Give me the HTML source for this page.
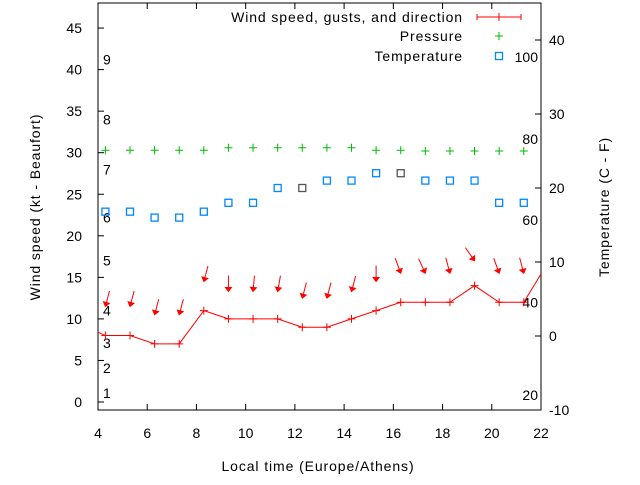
<!DOCTYPE html>
<html><head><meta charset="utf-8"><style>
body{margin:0;background:#fff}
svg text{font-family:"Liberation Sans",sans-serif;font-size:14px;fill:#000}
svg text.wide{letter-spacing:0.9px}
</style></head><body>
<svg id="c" width="640" height="480"></svg>
<script>
const hours=[4.3,5.3,6.3,7.3,8.3,9.3,10.3,11.3,12.3,13.3,14.3,15.3,16.3,17.3,18.3,19.3,20.3,21.3];
const windLine=[[4,8.4],[4.3,8],[5.3,8],[6.3,7],[7.3,7],[8.3,11],[9.3,10],[10.3,10],[11.3,10],[12.3,9],[13.3,9],[14.3,10],[15.3,11],[16.3,12],[17.3,12],[18.3,12],[19.3,14],[20.3,12],[21.3,12],[22,15.4]];
const gusts=[11.5,11.5,10.5,10.5,14.5,13.3,13.3,13.3,12.5,12.5,13.3,14.5,15.5,15.5,15.5,17,15.5,15.5];
const dirs=[15,15,15,15,15,0,5,10,15,15,15,0,-20,-25,-15,-35,-20,-15];
const pressure=[30.3,30.3,30.3,30.3,30.3,30.6,30.6,30.6,30.6,30.6,30.6,30.3,30.3,30.2,30.2,30.2,30.2,30.2];
const temps=[16.8,16.8,16,16,16.8,18,18,20,20,21,21,22,22,21,21,21,18,18];
const xTicks=[4,6,8,10,12,14,16,18,20,22];
const yTicks=[0,5,10,15,20,25,30,35,40,45];
const y2Ticks=[-10,0,10,20,30,40];
const beaufort=[[1,1.1],[2,4.1],[3,7.1],[4,11],[5,17],[6,22.2],[7,28],[8,34],[9,41.2]];
const fahr=[[20,-8],[40,4.5],[60,15.7],[80,26.6],[100,37.7]];
const L=98,R=541,T=3,B=410;
const X=h=>L+(h-4)*(R-L)/18;
const Y=v=>402-v*8.31;
const Y2=t=>336-t*7.4;
const s=document.getElementById('c');const NS='http://www.w3.org/2000/svg';
function el(t,a,txt){const e=document.createElementNS(NS,t);for(const k in a)e.setAttribute(k,a[k]);if(txt!==undefined)e.textContent=txt;s.appendChild(e);return e;}
let e;
e=el('rect',{x:L,y:T,width:R-L,height:B-T,fill:'none',stroke:'#000'});


xTicks.forEach(h=>{
 e=el('path',{d:`M${X(h)} ${B}v-6M${X(h)} ${T}v6`,stroke:'#000'});
 
 
 e=el('text',{x:X(h),y:438,'text-anchor':'middle'},h);
 
 
});
yTicks.forEach(v=>{
 e=el('path',{d:`M${L} ${Y(v)}h6`,stroke:'#000'});
 
 
 e=el('text',{x:82,y:Y(v)+5,'text-anchor':'end'},v);
 
 
});
y2Ticks.forEach(v=>{
 e=el('path',{d:`M${R} ${Y2(v)}h-6`,stroke:'#000'});
 
 
 e=el('text',{x:549,y:Y2(v)+5},v);
 
 
});
beaufort.forEach(b=>{
 e=el('text',{x:103,y:Y(b[1])+5},b[0]);
 
 
});
fahr.forEach(f=>{
 e=el('text',{x:538,y:Y2(f[1])+5,'text-anchor':'end'},f[0]);
 
 
});
e=el('text',{x:318,y:471,'text-anchor':'middle',class:'wide'},'Local time (Europe/Athens)');


e=el('text',{x:0,y:0,'text-anchor':'middle',class:'wide',transform:'translate(40 207) rotate(-90)'},'Wind speed (kt - Beaufort)');


e=el('text',{x:0,y:0,'text-anchor':'middle',class:'wide',transform:'translate(609 207) rotate(-90)'},'Temperature (C - F)');


e=el('polyline',{points:windLine.map(p=>X(p[0])+','+Y(p[1])).join(' '),fill:'none',stroke:'#f00'});


hours.forEach((h,i)=>{
 const w=windLine.find(p=>p[0]===h);
 e=el('path',{d:`M${X(h)-4} ${Y(w[1])}h8M${X(h)} ${Y(w[1])-4}v8`,stroke:'#f00'});
 
 
 const hx=X(h),hy=Y(gusts[i]);
 const g=el('g',{transform:`rotate(${dirs[i]} ${hx} ${hy})`});
 
 
 const l=document.createElementNS(NS,'path');l.setAttribute('d',`M${hx} ${hy-16}V${hy}`);l.setAttribute('stroke','#f00');g.appendChild(l);
 const p=document.createElementNS(NS,'path');p.setAttribute('d',`M${hx-3} ${hy-4}L${hx} ${hy}L${hx+3} ${hy-4}Z`);p.setAttribute('fill','#f00');p.setAttribute('stroke','#f00');g.appendChild(p);
 e=el('path',{d:`M${X(h)-4} ${Y(pressure[i])}h8M${X(h)} ${Y(pressure[i])-4}v8`,stroke:'#0b0'});
 
 
 e=el('rect',{x:X(h)-3.5,y:Y2(temps[i])-3.5,width:7,height:7,fill:'none',stroke:(i===8||i===12)?'#555':'#08f','stroke-width':1.3});
 
 
});
const lg=[['Wind speed, gusts, and direction',17],['Pressure',36],['Temperature',56]];
lg.forEach(l=>{e=el('text',{x:463,y:l[1]+5,'text-anchor':'end',class:'wide'},l[0]);
 
 });
e=el('path',{d:'M477 17h44M477 14v6M521 14v6M499 13v8',stroke:'#f00'});


e=el('path',{d:'M495 36h8M499 32v8',stroke:'#0b0'});


e=el('rect',{x:495.5,y:52.5,width:7,height:7,fill:'none',stroke:'#08f','stroke-width':1.3});


</script>
</body></html>
